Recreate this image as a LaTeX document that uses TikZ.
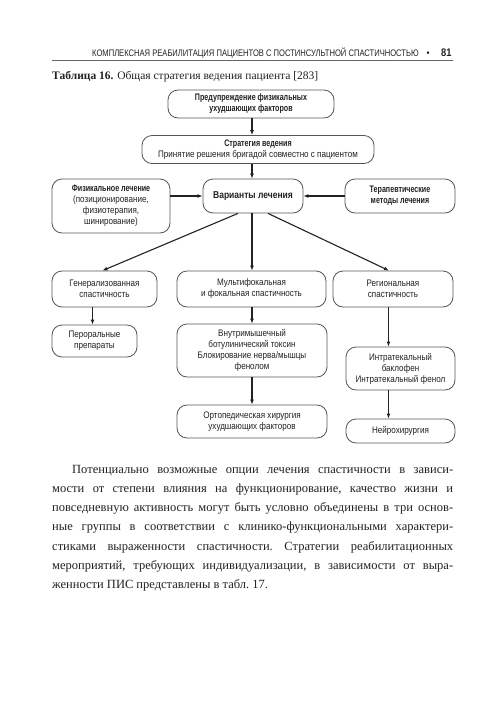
\documentclass[tikz,border=0pt]{standalone}
\usepackage{fontspec}
\setmainfont{Liberation Serif}
\newfontfamily\cond[FakeStretch=0.85]{Liberation Sans}
\newfontfamily\condb[FakeStretch=0.75]{Liberation Sans}
\newfontfamily\hdrf[FakeStretch=0.8]{Liberation Sans}
\newcommand\bx{\condb\bfseries}
\usetikzlibrary{arrows.meta,calc}
\definecolor{ink}{HTML}{222222}
\definecolor{frame}{HTML}{555555}
\begin{document}
\begin{tikzpicture}[x=1pt,y=-1pt,
  box/.style={draw=frame, line width=0.8pt, rounded corners=10pt, align=center,
    font=\cond\fontsize{9.5}{11}\selectfont, text=ink, inner sep=1pt},
  arr/.style={-{Latex[length=5pt,width=4pt]}, line width=1.1pt, draw=ink},
  plain/.style={inner sep=0pt, text=ink}]
\useasboundingbox[fill=white] (0,0) rectangle (500,718);

% header
\node[plain, anchor=base west, font=\hdrf\fontsize{9.5}{10}\selectfont] (hd) at (92,56)
  {КОМПЛЕКСНАЯ РЕАБИЛИТАЦИЯ ПАЦИЕНТОВ С ПОСТИНСУЛЬТНОЙ СПАСТИЧНОСТЬЮ};
\node[plain, anchor=base, font=\cond\fontsize{10}{10}\selectfont] (bul) at (428,56) {•};
\node[plain, anchor=base west, font=\cond\bfseries\fontsize{11}{11}\selectfont] (pg) at (441,56) {81};
\coordinate (rl) at (52,60);
\coordinate (rr) at (453,60);
\draw[line width=0.7pt, draw=black!60] (rl) -- (rr);

% caption
\node[plain, anchor=base west, font=\fontsize{11.5}{13}\selectfont] (cap) at (52,79)
  {\textbf{Таблица 16.} Общая стратегия ведения пациента [283]};

% boxes
\node[box, minimum width=166pt, minimum height=28pt] (n1) at (251,104)
  {\bx Предупреждение физикальных\\\bx ухудшающих факторов};
\node[box, minimum width=232pt, minimum height=28pt] (n2) at (258,149.5)
  {\bx Стратегия ведения\\Принятие решения бригадой совместно с пациентом};
\node[box, minimum width=100pt, minimum height=34pt, font=\cond\bfseries\fontsize{10}{12}\selectfont] (n3) at (253,196)
  {Варианты лечения};
\node[box, minimum width=118pt, minimum height=54pt] (n4) at (111,206)
  {\bx Физикальное лечение\\(позиционирование,\\физиотерапия,\\шинирование)};
\node[box, minimum width=110pt, minimum height=34pt] (n5) at (400,196)
  {\bx Терапевтические\\\bx методы лечения};
\node[box, minimum width=105pt, minimum height=36pt] (n6) at (104.5,289)
  {Генерализованная\\спастичность};
\node[box, minimum width=149pt, minimum height=36pt] (n7) at (251.5,289)
  {Мультифокальная\\и фокальная спастичность};
\node[box, minimum width=120pt, minimum height=36pt] (n8) at (393,289)
  {Региональная\\спастичность};
\node[box, minimum width=85pt, minimum height=32pt] (n9) at (94.5,341)
  {Пероральные\\препараты};
\node[box, minimum width=150pt, minimum height=53pt] (n10) at (252,350.5)
  {Внутримышечный\\ботулинический токсин\\Блокирование нерва/мышцы\\фенолом};
\node[box, minimum width=150pt, minimum height=33pt] (n11) at (252,421.5)
  {Ортопедическая хирургия\\ухудшающих факторов};
\node[box, minimum width=109pt, minimum height=43pt] (n12) at (400.5,368.5)
  {Интратекальный\\баклофен\\Интратекальный фенол};
\node[box, minimum width=109pt, minimum height=24pt] (n13) at (400.5,431)
  {Нейрохирургия};

% connectors
\draw[arr] ([xshift=1pt]n1.south) -- ([xshift=1pt]n1.south |- n2.north);
\draw[arr] ([xshift=-1pt]n3.north |- n2.south) -- ([xshift=-1pt]n3.north);
\draw[arr] (n4.east |- n3.west) -- (n3.west);
\draw[arr] (n5.west) -- (n3.east);
\draw[arr] ($(n3.south)+(-15,0)$) -- ($(n6.north)+(-2,0)$);
\draw[arr] ([xshift=-1pt]n3.south) -- ([xshift=-1pt]n3.south |- n7.north);
\draw[arr] ($(n3.south)+(15,0)$) -- ($(n8.north)+(-4,0)$);
\draw[arr] ([xshift=-2pt]n9.north |- n6.south) -- ([xshift=-2pt]n9.north);
\draw[arr] (n10.north |- n7.south) -- (n10.north);
\draw[arr] (n10.south) -- (n11.north);
\draw[arr] ([xshift=-12pt]n12.north |- n8.south) -- ([xshift=-12pt]n12.north);
\draw[arr] ([xshift=-12pt]n12.south) -- ([xshift=-12pt]n13.north);

% paragraph
\node[plain, anchor=north west, text width=401pt, align=justify,
  font=\fontsize{12.5}{19.2}\selectfont\frenchspacing] (par) at (52,465)
  {\hspace*{20pt}Потенциально возможные опции лечения спастичности в зависи-\linebreak
  мости от степени влияния на функционирование, качество жизни и\linebreak
  повседневную активность могут быть условно объединены в три основ-\linebreak
  ные группы в соответствии с клинико-функциональными характери-\linebreak
  стиками выраженности спастичности. Стратегии реабилитационных\linebreak
  мероприятий, требующих индивидуализации, в зависимости от выра-\linebreak
  женности ПИС представлены в табл.~17.};
\end{tikzpicture}
\end{document}
